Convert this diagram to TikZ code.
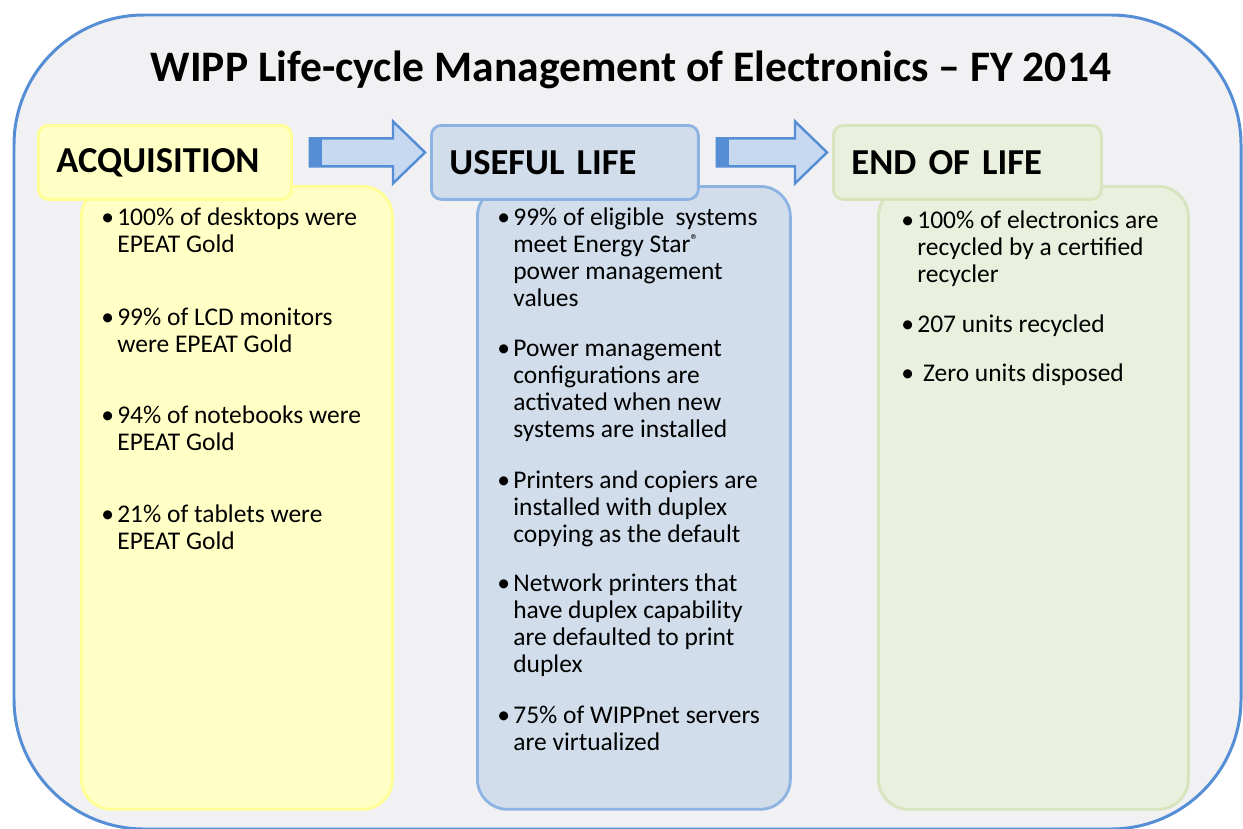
\documentclass[tikz,border=0pt]{standalone}
\usepackage{fontspec}
\setmainfont{Carlito}
\usetikzlibrary{calc,positioning}
\definecolor{frameblue}{RGB}{85,142,213}
\definecolor{panelgray}{RGB}{241,241,243}
\definecolor{acqfill}{RGB}{255,255,198}
\definecolor{acqline}{RGB}{255,255,150}
\definecolor{usefill}{RGB}{209,221,235}
\definecolor{useline}{RGB}{141,179,226}
\definecolor{eolfill}{RGB}{233,240,221}
\definecolor{eolline}{RGB}{215,228,189}
\definecolor{arrfill}{RGB}{198,217,241}
\tikzset{
  frameln/.style={draw=frameblue, fill=panelgray, line width=1.7pt, rounded corners=2.6cm},
  phasehead/.style={draw, line width=1.6pt, rounded corners=0.2cm, anchor=north west,
    minimum height=1.48cm, align=left, inner xsep=0.36cm,
    font=\fontsize{20.8}{24}\selectfont\bfseries},
  phasebody/.style={draw, line width=1.6pt, rounded corners=0.6cm, anchor=north west,
    minimum height=12.46cm},
  bullettext/.style={anchor=north west, inner sep=0pt, align=left,
    font=\fontsize{14.5}{15.4}\selectfont},
  flowarr/.style={draw=frameblue, fill=arrfill, line width=1.4pt, line join=miter},
}
\newcommand{\bul}{\makebox[0.32cm][l]{\textbullet}}
\newcommand{\ind}{\hspace*{0.32cm}}
\newcommand{\regmark}{{\fontsize{9}{9}\selectfont\raisebox{0.42em}{®}}}
% block arrow from one phase header to the next
\newcommand{\flowarrow}[2]{%
  \coordinate (#1-tail) at ($(#1.east)+(17,-10)$);
  \coordinate (#2-tip) at ($(#2.west)+(-5,-10)$);
  \draw[flowarr] ($(#1-tail)+(0,-14)$) -- ($(#2-tip)+(-32,-14)$) -- ($(#2-tip)+(-32,-31)$)
    -- (#2-tip) -- ($(#2-tip)+(-32,31)$) -- ($(#2-tip)+(-32,14)$) -- ($(#1-tail)+(0,14)$) -- cycle;
  \fill[frameblue] ($(#1-tail)+(0.7,-13.3)$) rectangle ($(#1-tail)+(12,13.3)$);
}

\begin{document}
\begin{tikzpicture}[x=0.02cm, y=-0.02cm]
  \fill[white] (0,0) rectangle (1243,828);
  \clip (0,0) rectangle (1243,828);
  % outer panel
  \draw[frameln] (14,15) rectangle (1241,829);
  \node[font=\fontsize{24.8}{28}\selectfont\bfseries] (title) at (631,70)
    {WIPP Life-cycle Management of Electronics -- FY 2014};

  % bodies first, headers sit on top of them
  \node[phasebody, draw=acqline, fill=acqfill, minimum width=6.22cm] (acqbody) at (80,185) {};
  \node[phasebody, draw=useline, fill=usefill, minimum width=6.26cm] (usebody) at (476,185) {};
  \node[phasebody, draw=eolline, fill=eolfill, minimum width=6.2cm] (eolbody) at (877,185) {};

  \node[phasehead, draw=acqline, fill=acqfill, text width=4.34cm] (acqhead) at (37,124) {\raisebox{-2.5pt}{ACQUISITION}};
  \node[phasehead, draw=useline, fill=usefill, text width=4.62cm] (usehead) at (430,124) {\raisebox{-2.5pt}{USEFUL LIFE}};
  \node[phasehead, draw=eolline, fill=eolfill, text width=4.64cm] (eolhead) at (832,124) {\raisebox{-2.5pt}{END OF LIFE}};

  \flowarrow{acqhead}{usehead}
  \flowarrow{usehead}{eolhead}

  % bullet lists
  \node[bullettext] (acqtext) at (101,207) {%
    \bul 100\% of desktops were\\ \ind EPEAT Gold\\[0.92cm]
    \bul 99\% of LCD monitors\\ \ind were EPEAT Gold\\[0.88cm]
    \bul 94\% of notebooks were\\ \ind EPEAT Gold\\[0.9cm]
    \bul 21\% of tablets were\\ \ind EPEAT Gold};
  \node[bullettext] (usetext) at (497,207) {%
    \bul 99\% of eligible\ \ systems\\ \ind meet Energy Star\regmark\\ \ind power management\\ \ind values\\[0.46cm]
    \bul Power management\\ \ind configurations are\\ \ind activated when new\\ \ind systems are installed\\[0.48cm]
    \bul Printers and copiers are\\ \ind installed with duplex\\ \ind copying as the default\\[0.44cm]
    \bul Network printers that\\ \ind have duplex capability\\ \ind are defaulted to print\\ \ind duplex\\[0.48cm]
    \bul 75\% of WIPPnet servers\\ \ind are virtualized};
  \node[bullettext] (eoltext) at (901,210) {%
    \bul 100\% of electronics are\\ \ind recycled by a certified\\ \ind recycler\\[0.46cm]
    \bul 207 units recycled\\[0.44cm]
    \bul\ Zero units disposed};
\end{tikzpicture}
\end{document}
